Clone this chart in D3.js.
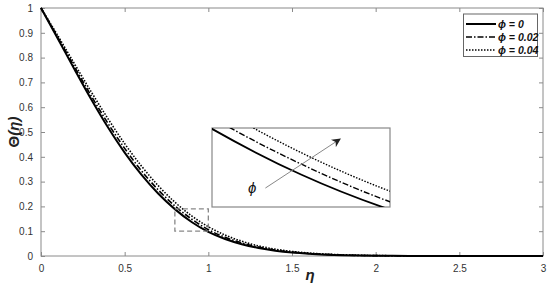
<!DOCTYPE html>
<html><head><meta charset="utf-8">
<script src="https://cdn.jsdelivr.net/npm/d3@7"></script>
<style>body{margin:0;background:#fff;}svg{display:block;font-family:Arial,"Liberation Sans",sans-serif;}</style>
</head><body><svg id="c" width="550" height="287"></svg>
<script>
const eta = d3.range(0, 31).map(i => +(i * 0.1).toFixed(1));
const phi0   = [1,0.877,0.753,0.632,0.519,0.417,0.328,0.252,0.189,0.137,0.097,0.0685,0.0476,0.0322,0.0213,0.0137,0.0087,0.0054,0.0033,0.0019,0.0011,0.0006,0.0003,0.0002,0.0001,0,0,0,0,0,0];
const phi002 = [1,0.882,0.763,0.646,0.535,0.434,0.344,0.267,0.202,0.149,0.106,0.0755,0.0528,0.0360,0.0242,0.0158,0.0103,0.0065,0.0041,0.0024,0.0015,0.0008,0.0004,0.0002,0.0001,0,0,0,0,0,0];
const phi004 = [1,0.889,0.775,0.662,0.554,0.453,0.363,0.284,0.217,0.162,0.118,0.0846,0.0596,0.0407,0.0276,0.0184,0.0121,0.0078,0.0050,0.0031,0.0019,0.0011,0.0006,0.0003,0.0002,0.0001,0,0,0,0,0];
const seriesNames = ["ϕ = 0","ϕ = 0.02","ϕ = 0.04"];
const xTicks = [0,0.5,1,1.5,2,2.5,3];
const yTicks = [0,0.1,0.2,0.3,0.4,0.5,0.6,0.7,0.8,0.9,1];
const zoomX = [0.8, 1.0];
const zoomY = [0.1, 0.19];

const series = [
  {name: seriesNames[0], vals: phi0,   dash: null,       w: 2},
  {name: seriesNames[1], vals: phi002, dash: "6,2,1.5,2", w: 1.6},
  {name: seriesNames[2], vals: phi004, dash: "1.5,1.5", w: 1.6}
];

const svg = d3.select("#c");
const L = 41, R = 543, T = 8, B = 256;
const x = d3.scaleLinear().domain([0,3]).range([L,R]);
const y = d3.scaleLinear().domain([0,1]).range([B,T]);
const axisCol = "#8a8a8a", txtCol = "#333";

svg.append("rect").attr("x",L).attr("y",T).attr("width",R-L).attr("height",B-T)
  .attr("fill","none").attr("stroke",axisCol).attr("stroke-width",1);

const gx = svg.append("g").attr("transform",`translate(0,${B})`)
  .call(d3.axisBottom(x).tickValues(xTicks).tickSize(-4).tickPadding(9).tickFormat(d3.format("")));
const gxt = svg.append("g").attr("transform",`translate(0,${T})`)
  .call(d3.axisTop(x).tickValues(xTicks).tickSize(-4).tickFormat(""));
const gy = svg.append("g").attr("transform",`translate(${L},0)`)
  .call(d3.axisLeft(y).tickValues(yTicks).tickSize(-4).tickPadding(8).tickFormat(d3.format("")));
const gyr = svg.append("g").attr("transform",`translate(${R},0)`)
  .call(d3.axisRight(y).tickValues(yTicks).tickSize(-4).tickFormat(""));
[gx,gxt,gy,gyr].forEach(g => {
  g.select(".domain").remove();
  g.selectAll(".tick line").attr("stroke",axisCol);
  g.selectAll(".tick text").attr("fill",txtCol).attr("font-size",10);
});

const line = (xs, ys) => d3.line().x((d,i)=>xs(eta[i])).y(d=>ys(d)).curve(d3.curveMonotoneX);

series.forEach(s => {
  svg.append("path").attr("d", line(x,y)(s.vals)).attr("fill","none")
    .attr("stroke","#000").attr("stroke-width",s.w)
    .attr("stroke-dasharray",s.dash);
});

svg.append("rect").attr("x",x(zoomX[0])).attr("y",y(zoomY[1]))
  .attr("width",x(zoomX[1])-x(zoomX[0])).attr("height",y(zoomY[0])-y(zoomY[1]))
  .attr("fill","none").attr("stroke","#888").attr("stroke-width",1.3).attr("stroke-dasharray","5,3");

const IL = 212, IR = 390, IT = 128, IB = 207;
const xi = d3.scaleLinear().domain(zoomX).range([IL,IR]);
const yi = d3.scaleLinear().domain(zoomY).range([IB,IT]);
svg.append("rect").attr("x",IL).attr("y",IT).attr("width",IR-IL).attr("height",IB-IT)
  .attr("fill","#fff").attr("stroke","#888").attr("stroke-width",1.2);
svg.append("clipPath").attr("id","ic").append("rect")
  .attr("x",IL).attr("y",IT).attr("width",IR-IL).attr("height",IB-IT);
const ig = svg.append("g").attr("clip-path","url(#ic)");
series.forEach(s => {
  ig.append("path").attr("d", line(xi,yi)(s.vals)).attr("fill","none")
    .attr("stroke","#000").attr("stroke-width",s.w-0.2)
    .attr("stroke-dasharray",s.dash);
});
const defs = svg.append("defs");
defs.append("marker").attr("id","ah").attr("viewBox","0 0 10 10").attr("refX",9).attr("refY",5)
  .attr("markerWidth",9).attr("markerHeight",9).attr("orient","auto").attr("markerUnits","userSpaceOnUse")
  .append("path").attr("d","M0,0L10,5L0,10L3,5Z").attr("fill","#222");
svg.append("line").attr("x1",xi(0.86)).attr("y1",yi(0.1216)).attr("x2",xi(0.944)).attr("y2",yi(0.1775))
  .attr("stroke","#888").attr("stroke-width",1).attr("marker-end","url(#ah)");
svg.append("text").attr("x",xi(0.845)).attr("y",yi(0.1165)).attr("text-anchor","middle")
  .attr("font-size",15).attr("font-style","italic").attr("fill","#111").text("ϕ");

const lg = svg.append("g");
lg.append("rect").attr("x",463.5).attr("y",14).attr("width",74).attr("height",42.5)
  .attr("fill","#fff").attr("stroke","#666").attr("stroke-width",1);
series.forEach((s,i) => {
  const yy = 24 + i*13;
  lg.append("line").attr("x1",466).attr("x2",496).attr("y1",yy).attr("y2",yy)
    .attr("stroke","#000").attr("stroke-width",s.w).attr("stroke-dasharray",s.dash);
  lg.append("text").attr("x",498).attr("y",yy+3.5).attr("font-size",10.5)
    .attr("font-weight","bold").attr("font-style","italic").attr("fill","#111").text(s.name);
});

svg.append("text").attr("x",310).attr("y",280).attr("text-anchor","middle")
  .attr("font-size",15).attr("font-weight","bold").attr("font-style","italic").attr("fill","#222").text("η");
const yl = svg.append("text").attr("transform","translate(19,132) rotate(-90)").attr("text-anchor","middle")
  .attr("font-size",15).attr("font-weight","bold").attr("fill","#222");
yl.append("tspan").text("Θ");
yl.append("tspan").attr("font-style","italic").text("(η)");
</script></body></html>
